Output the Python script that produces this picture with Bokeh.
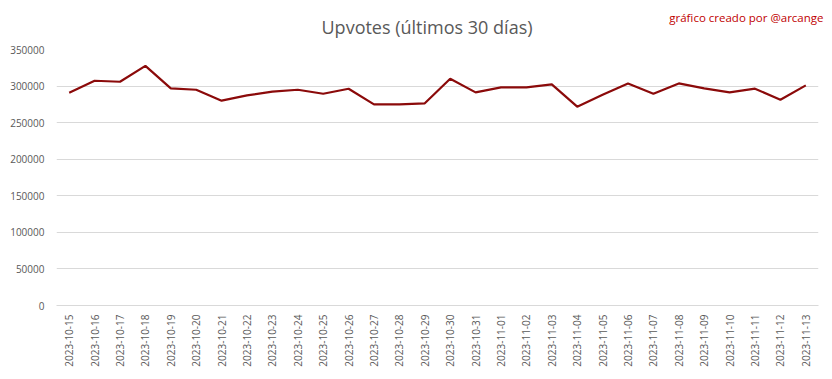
import math
from bokeh.plotting import figure
from bokeh.models import Title, SingleIntervalTicker, NumeralTickFormatter, Range1d, FactorRange
from bokeh.embed import file_html
from bokeh.resources import INLINE

dates = ["2023-10-15", "2023-10-16", "2023-10-17", "2023-10-18", "2023-10-19",
         "2023-10-20", "2023-10-21", "2023-10-22", "2023-10-23", "2023-10-24",
         "2023-10-25", "2023-10-26", "2023-10-27", "2023-10-28", "2023-10-29",
         "2023-10-30", "2023-10-31", "2023-11-01", "2023-11-02", "2023-11-03",
         "2023-11-04", "2023-11-05", "2023-11-06", "2023-11-07", "2023-11-08",
         "2023-11-09", "2023-11-10", "2023-11-11", "2023-11-12", "2023-11-13"]
upvotes = [291000, 307300, 305900, 327700, 296800,
           295000, 280000, 287300, 292300, 295000,
           289500, 296400, 275000, 275000, 276400,
           310000, 291400, 298200, 298200, 302300,
           271800, 288200, 303600, 289500, 303600,
           296800, 291400, 296400, 281400, 301000]

title_text = "Upvotes (últimos 30 días)"
credit_text = "gráfico creado por @arcange"

p = figure(width=832, height=379,
           x_range=FactorRange(factors=dates, range_padding=0),
           y_range=Range1d(0, 350000),
           output_backend="svg", toolbar_location=None, title_location=None,
           min_border_left=56, min_border_right=14,
           min_border_top=49, min_border_bottom=74)

main = Title(text=title_text, align="left", offset=265, standoff=22,
             text_font="Open Sans", text_font_size="18px", text_font_style="normal",
             text_color="#595959")
credit = Title(text=credit_text, align="right", offset=-5, standoff=-46,
               text_font="Open Sans", text_font_size="11.5px", text_font_style="normal",
               text_color="#c00000")
p.add_layout(main, "above")
p.add_layout(credit, "above")

p.line(x=dates, y=upvotes, line_color="#8b0a0a", line_width=2.2)

p.outline_line_color = None
p.xgrid.grid_line_color = None
p.ygrid.grid_line_color = "#d9d9d9"
p.ygrid.grid_line_width = 1

p.yaxis.ticker = SingleIntervalTicker(interval=50000)
p.yaxis.formatter = NumeralTickFormatter(format="0")
p.yaxis.axis_line_color = None
p.yaxis.major_tick_line_color = None
p.yaxis.minor_tick_line_color = None
p.yaxis.major_label_text_color = "#595959"
p.yaxis.major_label_text_font = "Open Sans"
p.yaxis.major_label_text_font_size = "10px"
p.yaxis.major_label_standoff = 6

p.xaxis.axis_line_color = "#d9d9d9"
p.xaxis.major_tick_line_color = None
p.xaxis.minor_tick_line_color = None
p.xaxis.major_label_orientation = math.pi / 2
p.xaxis.major_label_text_color = "#595959"
p.xaxis.major_label_text_font = "Open Sans"
p.xaxis.major_label_text_font_size = "10px"
p.xaxis.major_label_standoff = 3

open("out.html", "w").write(file_html(p, INLINE))
